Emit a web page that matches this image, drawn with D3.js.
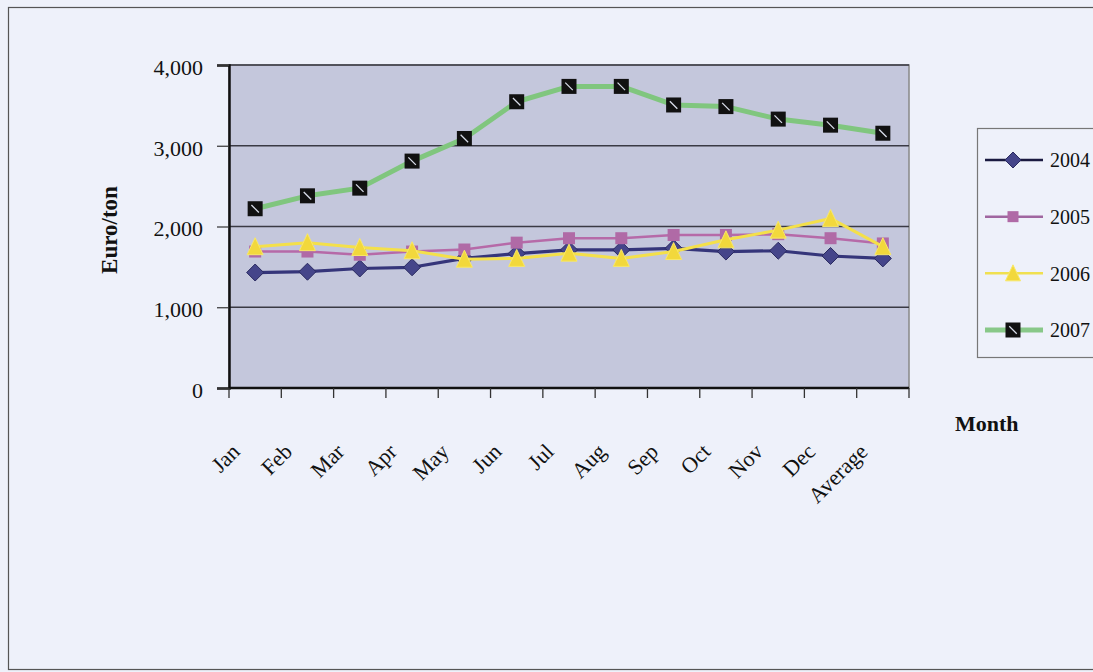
<!DOCTYPE html>
<html>
<head>
<meta charset="utf-8">
<script src="https://cdn.jsdelivr.net/npm/d3@7"></script>
<style>
  html, body { margin: 0; padding: 0; background: #eef1fa; }
  svg { display: block; }
  text { font-family: "Liberation Serif", "Times New Roman", serif; fill: #111; }
</style>
</head>
<body>
<svg id="chart" width="1093" height="672"></svg>
<script>
// Monthly prices, Euro per ton
const months = ["Jan", "Feb", "Mar", "Apr", "May", "Jun", "Jul", "Aug", "Sep", "Oct", "Nov", "Dec", "Average"];
const years = ["2004", "2005", "2006", "2007"];
const values2004 = [1430, 1440, 1480, 1495, 1605, 1665, 1710, 1710, 1730, 1690, 1700, 1635, 1605];
const values2005 = [1690, 1690, 1650, 1690, 1715, 1800, 1855, 1855, 1895, 1895, 1905, 1855, 1790];
const values2006 = [1750, 1800, 1740, 1700, 1595, 1605, 1670, 1605, 1690, 1835, 1955, 2100, 1750];
const values2007 = [2220, 2380, 2475, 2810, 3090, 3545, 3735, 3735, 3505, 3485, 3330, 3255, 3155];
const yTicks = [0, 1000, 2000, 3000, 4000];

const seriesValues = [values2004, values2005, values2006, values2007];
const styles = [
  { line: "#35357a", width: 3.2, marker: "diamond", fill: "#45458a", size: 17, legendLine: "#1a1a40" },
  { line: "#b66aa8", width: 2.5, marker: "square", fill: "#b06aa6", size: 12, legendLine: "#a066a0" },
  { line: "#f4e04a", width: 3, marker: "triangle", fill: "#f2d83c", size: 16, legendLine: "#f0e050" },
  { line: "#80c67e", width: 5, marker: "blacksquare", fill: "#111", size: 15, legendLine: "#88c888" }
];

const svg = d3.select("#chart");
const plot = { left: 229, right: 909, top: 65, bottom: 388 };

const x = d3.scaleBand().domain(months).range([plot.left, plot.right]);
const y = d3.scaleLinear().domain([0, 4000]).range([plot.bottom, plot.top]);

// outer chart frame
svg.append("rect")
  .attr("x", 8.5).attr("y", 7.5).attr("width", 1100).attr("height", 662)
  .attr("fill", "#eef1fa").attr("stroke", "#555").attr("stroke-width", 1.2);

// plot area
svg.append("rect")
  .attr("x", plot.left).attr("y", plot.top)
  .attr("width", plot.right - plot.left).attr("height", plot.bottom - plot.top)
  .attr("fill", "#c4c7dc").attr("stroke", "#888").attr("stroke-width", 1.5);

// horizontal gridlines
svg.append("g").selectAll("line").data(yTicks.filter(d => d > 0)).join("line")
  .attr("x1", plot.left).attr("x2", plot.right)
  .attr("y1", d => y(d)).attr("y2", d => y(d))
  .attr("stroke", "#3a3a44").attr("stroke-width", 1.3);

// y axis
const yAxis = svg.append("g")
  .attr("transform", `translate(${plot.left},0)`)
  .call(d3.axisLeft(y).tickValues(yTicks).tickFormat(d3.format(",")).tickSize(12).tickPadding(14));
yAxis.select(".domain").attr("stroke", "#111").attr("stroke-width", 2.5);
yAxis.selectAll(".tick line").attr("stroke", "#333").attr("stroke-width", 1.2);
yAxis.selectAll(".tick text")
  .attr("font-size", 22).attr("font-family", "Liberation Serif, serif").attr("fill", "#111").attr("dy", "0.42em");

// x axis: ticks sit on the category boundaries
const boundaries = months.map(m => x(m)).concat([plot.right]);
svg.append("line")
  .attr("x1", plot.left).attr("x2", plot.right)
  .attr("y1", plot.bottom).attr("y2", plot.bottom)
  .attr("stroke", "#111").attr("stroke-width", 2.5);
svg.append("g").selectAll("line").data(boundaries).join("line")
  .attr("x1", d => d).attr("x2", d => d)
  .attr("y1", plot.bottom).attr("y2", plot.bottom + 10)
  .attr("stroke", "#333").attr("stroke-width", 1.3);

// rotated category labels
svg.append("g").selectAll("text").data(months).join("text")
  .attr("transform", d => `translate(${x(d) + x.bandwidth() / 2 - 14},${453}) rotate(-45)`)
  .attr("text-anchor", "end")
  .attr("font-size", 22)
  .text(d => d);

// axis titles
svg.append("text")
  .attr("transform", `translate(117,230) rotate(-90)`)
  .attr("text-anchor", "middle")
  .attr("font-size", 23).attr("font-weight", "bold")
  .text("Euro/ton");
svg.append("text")
  .attr("x", 955).attr("y", 431)
  .attr("font-size", 22).attr("font-weight", "bold")
  .text("Month");

// marker drawing
function drawMarker(g, type, size, fill) {
  const h = size / 2;
  if (type === "diamond") {
    g.append("path").attr("d", `M0,${-h}L${h},0L0,${h}L${-h},0Z`)
      .attr("fill", fill).attr("stroke", "#2a2a60").attr("stroke-width", 1);
  } else if (type === "square") {
    g.append("rect").attr("x", -h).attr("y", -h).attr("width", size).attr("height", size)
      .attr("fill", fill);
  } else if (type === "triangle") {
    g.append("path").attr("d", `M0,${-h - 1}L${h},${h}L${-h},${h}Z`)
      .attr("fill", fill).attr("stroke", "#f8e868").attr("stroke-width", 1);
  } else if (type === "blacksquare") {
    g.append("rect").attr("x", -h).attr("y", -h).attr("width", size).attr("height", size)
      .attr("fill", "#111");
    g.append("line").attr("x1", -h * 0.5).attr("y1", -h * 0.5).attr("x2", h * 0.5).attr("y2", h * 0.5)
      .attr("stroke", "#d8dce8").attr("stroke-width", 1.3);
  }
}

const line = d3.line()
  .x((d, i) => x(months[i]) + x.bandwidth() / 2)
  .y(d => y(d));

seriesValues.forEach((vals, s) => {
  const st = styles[s];
  const g = svg.append("g");
  g.append("path").datum(vals)
    .attr("d", line)
    .attr("fill", "none")
    .attr("stroke", st.line)
    .attr("stroke-width", st.width)
    .attr("stroke-linejoin", "round");
  vals.forEach((v, i) => {
    const mg = g.append("g")
      .attr("transform", `translate(${x(months[i]) + x.bandwidth() / 2},${y(v)})`);
    drawMarker(mg, st.marker, st.size, st.fill);
  });
});

// legend
const legend = svg.append("g");
legend.append("rect")
  .attr("x", 977.5).attr("y", 128.5).attr("width", 140).attr("height", 229)
  .attr("fill", "#eef1fa").attr("stroke", "#777").attr("stroke-width", 1.2);
const legendY = d3.scalePoint().domain(years).range([160, 330]);
years.forEach((yr, s) => {
  const st = styles[s];
  const cy = legendY(yr);
  legend.append("line")
    .attr("x1", 985).attr("x2", 1043).attr("y1", cy).attr("y2", cy)
    .attr("stroke", st.legendLine).attr("stroke-width", s === 3 ? 5 : 2.5);
  const mg = legend.append("g").attr("transform", `translate(1013,${cy})`);
  drawMarker(mg, st.marker, s === 3 ? 15 : st.size - 1, st.fill);
  legend.append("text")
    .attr("x", 1050).attr("y", cy).attr("dy", "0.36em")
    .attr("font-size", 20)
    .text(yr);
});
</script>
</body>
</html>
